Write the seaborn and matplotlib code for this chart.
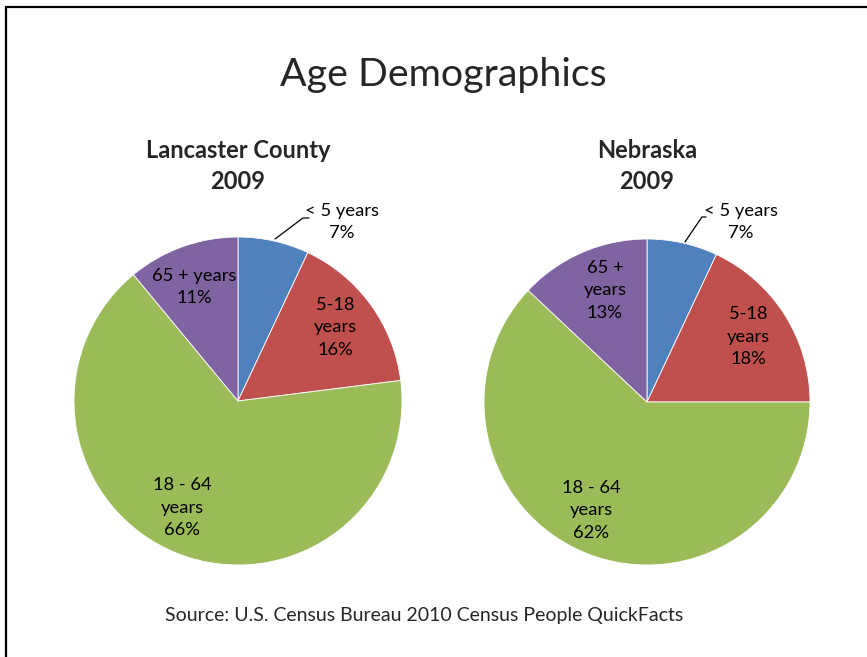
import matplotlib
matplotlib.use("Agg")
import matplotlib.pyplot as plt
from matplotlib.lines import Line2D
import seaborn as sns

sns.set_theme(style="white")
plt.rcParams["font.family"] = ["Lato", "DejaVu Sans"]

# Age groups and shares (%)
categories = ["< 5 years", "5-18 years", "18 - 64 years", "65 + years"]
lancaster_values = [7, 16, 66, 11]
nebraska_values = [7, 18, 62, 13]
lancaster_title = "Lancaster County\n2009"
nebraska_title = "Nebraska\n2009"

# label text per wedge (name part), as wrapped in each chart
lancaster_names = ["< 5 years", "5-18\nyears", "18 - 64\nyears", "65 + years"]
nebraska_names = ["< 5 years", "5-18\nyears", "18 - 64\nyears", "65 +\nyears"]

palette = sns.color_palette(["#4F81BD", "#C0504D", "#9BBB59", "#8064A2"])

W, H = 867, 657
fig = plt.figure(figsize=(W / 100, H / 100), dpi=100)
fig.patch.set_facecolor("white")


def pie_axes(cx, cy, r):
    return fig.add_axes([(cx - r) / W, (H - cy - r) / H, 2 * r / W, 2 * r / H])


def draw_pie(ax, values, names, label_pos, leader):
    ax.pie(values, colors=palette, startangle=90, counterclock=False,
           radius=1.0, wedgeprops=dict(linewidth=0.6, edgecolor="white"))
    for v, name, (x, y) in zip(values, names, label_pos):
        ax.text(x, y, f"{name}\n{v}%", ha="center", va="center",
                fontsize=13.2, color="black", linespacing=1.5)
    ax.plot(leader[0], leader[1], color="black", lw=0.9, clip_on=False)
    ax.set_xlim(-1, 1)
    ax.set_ylim(-1, 1)
    ax.axis("off")


# Lancaster County
ax1 = pie_axes(238, 401, 164)
draw_pie(ax1, lancaster_values, lancaster_names,
         [(0.634, 1.091), (0.591, 0.451), (-0.341, -0.652), (-0.268, 0.695)],
         ([0.226, 0.396, 0.433], [0.988, 1.116, 1.116]))

# Nebraska
ax2 = pie_axes(647, 402, 163)
draw_pie(ax2, nebraska_values, nebraska_names,
         [(0.577, 1.104), (0.62, 0.399), (-0.344, -0.663), (-0.258, 0.687)],
         ([0.233, 0.337, 0.362], [0.982, 1.135, 1.135]))

# Titles
fig.text(443 / W, 1 - 75 / H, "Age Demographics", ha="center", va="center",
         fontsize=28.4)
fig.text(238 / W, 1 - 166 / H, lancaster_title, ha="center", va="center",
         fontsize=17, fontweight="bold", linespacing=1.45)
fig.text(647 / W, 1 - 166 / H, nebraska_title, ha="center", va="center",
         fontsize=17, fontweight="bold", linespacing=1.45)
fig.text(424 / W, 1 - 615 / H,
         "Source: U.S. Census Bureau 2010 Census People QuickFacts",
         ha="center", va="center", fontsize=14)

# Frame along the left and top edges
fig.add_artist(Line2D([6 / W, 6 / W], [0, 1 - 7 / H], color="black", lw=1.6,
                      transform=fig.transFigure))
fig.add_artist(Line2D([6 / W, 1], [1 - 7 / H, 1 - 7 / H], color="black", lw=1.6,
                      transform=fig.transFigure))

fig.savefig("out.png", dpi=100, facecolor="white")
